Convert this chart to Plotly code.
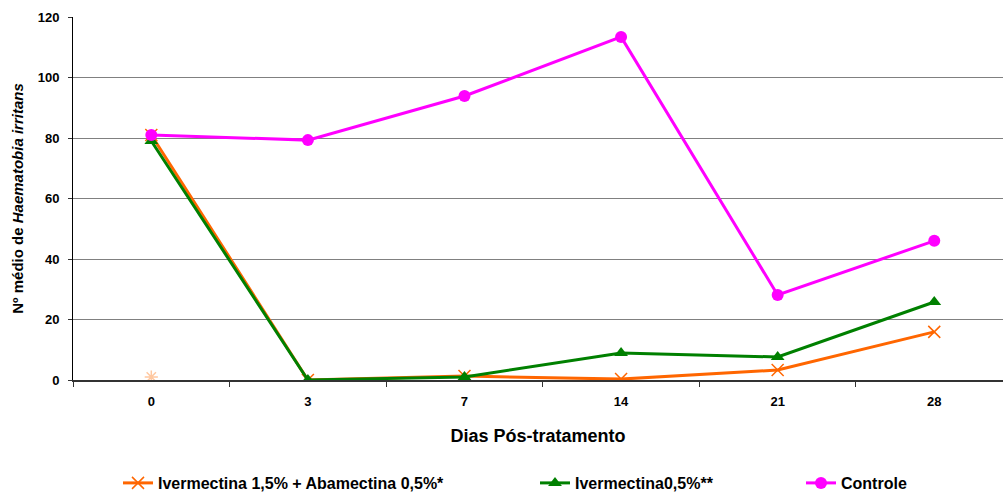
import plotly.graph_objects as go

dias = ["0", "3", "7", "14", "21", "28"]
iver_abam = [81, 0, 1.3, 0.3, 3.3, 15.9]
iver = [79, 0, 1, 8.9, 7.6, 25.8]
controle = [81, 79.3, 93.9, 113.4, 28.1, 46]
stray_x = ["0"]
stray_y = [1]

FONT = "Liberation Sans, Arial, sans-serif"

fig = go.Figure()
fig.add_trace(go.Scatter(x=dias, y=iver_abam, mode="lines+markers",
                         name="<b>Ivermectina 1,5% + Abamectina 0,5%*</b>",
                         line=dict(color="#FF6600", width=3),
                         marker=dict(symbol="x-thin", size=12, color="#FF6600",
                                     line=dict(color="#FF6600", width=1.5)),
                         legend="legend"))
fig.add_trace(go.Scatter(x=dias, y=iver, mode="lines+markers",
                         name="<b>Ivermectina0,5%**</b>",
                         line=dict(color="#008000", width=3),
                         marker=dict(symbol="triangle-up", size=12, color="#008000"),
                         legend="legend2"))
fig.add_trace(go.Scatter(x=dias, y=controle, mode="lines+markers",
                         name="<b>Controle</b>",
                         line=dict(color="#FF00FF", width=3),
                         marker=dict(symbol="circle", size=12, color="#FF00FF"),
                         legend="legend3"))
fig.add_trace(go.Scatter(x=stray_x, y=stray_y, mode="markers", showlegend=False,
                         marker=dict(symbol="asterisk-open", size=11, color="#FFC8A0",
                                     line=dict(color="#FFC8A0", width=1.5))))

legend_common = dict(orientation="h", yanchor="middle", xanchor="left", yref="container",
                     xref="paper", bgcolor="rgba(0,0,0,0)",
                     font=dict(family=FONT, size=16, color="black"))

L, R = 73, 0
PW = 1003 - L - R

def lx(px):
    return (px - L) / PW

fig.update_layout(
    width=1003, height=493,
    margin=dict(l=L, r=R, t=17, b=113),
    paper_bgcolor="white", plot_bgcolor="white",
    font=dict(family=FONT, color="black"),
    legend=dict(x=lx(118), y=(493 - 483) / 493, **legend_common),
    legend2=dict(x=lx(535), y=(493 - 483) / 493, **legend_common),
    legend3=dict(x=lx(801), y=(493 - 483) / 493, **legend_common),
    xaxis=dict(type="category", range=[-0.5, 5.439], tickson="boundaries",
               ticks="outside", ticklen=5, tickcolor="#333", showgrid=False,
               showline=True, linecolor="#333", linewidth=2, mirror=False,
               ticklabelstandoff=8,
               tickfont=dict(family=FONT, size=13, color="black"),
               title=dict(text="<b>Dias Pós-tratamento</b>", font=dict(family=FONT, size=18), standoff=22)),
    yaxis=dict(range=[0, 120], tickvals=[0, 20, 40, 60, 80, 100, 120],
               ticktext=["<b>%d</b>" % v for v in [0, 20, 40, 60, 80, 100, 120]],
               ticks="outside", ticklen=4, tickcolor="#333",
               ticklabelstandoff=6,
               showgrid=True, gridcolor="#808080", gridwidth=1,
               showline=True, linecolor="black", linewidth=1, zeroline=False,
               tickfont=dict(family=FONT, size=13, color="black"),
               title=dict(text="<b>Nº médio de <i>Haematobia irritans</i></b>",
                          font=dict(family=FONT, size=15), standoff=10)),
)
fig.update_xaxes(ticktext=["<b>%s</b>" % d for d in dias], tickvals=dias)

fig.write_html("out.html")
